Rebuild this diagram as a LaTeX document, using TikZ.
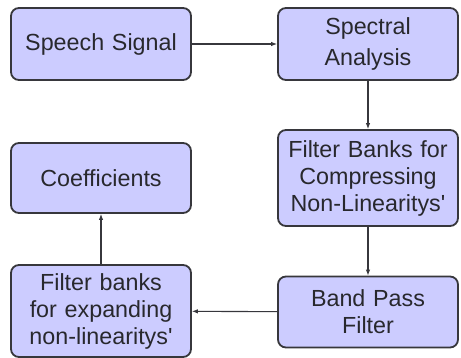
\documentclass[tikz,border=0pt]{standalone}
\usepackage{fontspec}
\setmainfont{Liberation Sans}
\usetikzlibrary{arrows.meta}
\definecolor{boxfill}{RGB}{204,204,255}
\definecolor{boxline}{RGB}{55,55,60}
\definecolor{boxtext}{RGB}{40,40,45}
\begin{document}
\begin{tikzpicture}[x=1pt,y=-1pt,
  blk/.style={draw=boxline,line width=1.8pt,fill=boxfill,rounded corners=8pt,
    minimum width=180pt,text width=176pt,align=center,inner sep=0pt,text=boxtext,
    font=\fontsize{23.3}{27}\selectfont},
  conn/.style={draw=boxline,line width=1.1pt,-{Latex[length=6pt,width=4.5pt]}}]
\useasboundingbox (0,0) rectangle (461,358);
\node[blk,minimum height=72pt] (speech) at (101,44) {Speech Signal};
\node[blk,minimum height=72pt,font=\fontsize{23.3}{31}\selectfont] (spec) at (368,44) {Spectral\\Analysis};
\node[blk,minimum height=96pt] (fbc) at (368,178) {Filter Banks for\\Compressing\\Non-Linearitys\textquotesingle};
\node[blk,minimum height=70pt] (coef) at (101,178) {Coefficients};
\node[blk,minimum height=92pt] (fbe) at (101,311) {Filter banks\\for expanding\\non-linearitys\textquotesingle};
\node[blk,minimum height=71pt] (bpf) at (368,312) {Band Pass\\Filter};
\draw[conn] (speech) -- (spec);
\draw[conn] (spec) -- (fbc);
\draw[conn] (fbc) -- (bpf);
\draw[conn] (bpf) -- (fbe);
\draw[conn] (fbe) -- (coef);
\end{tikzpicture}
\end{document}
